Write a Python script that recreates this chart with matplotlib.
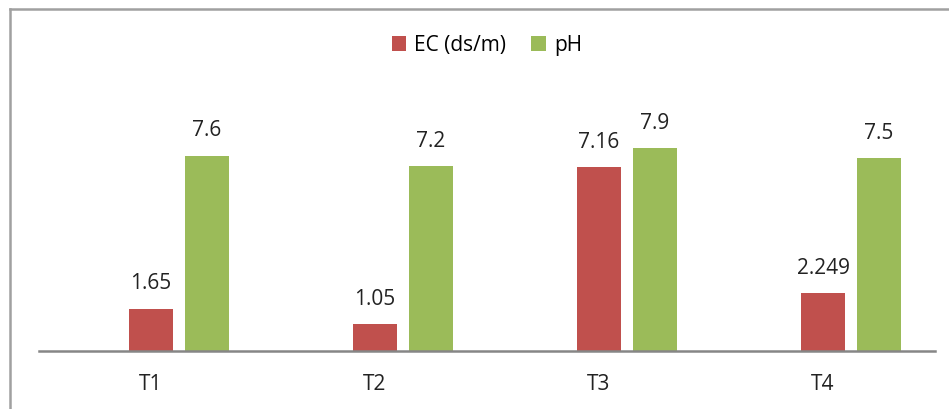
import numpy as np
import matplotlib.pyplot as plt
from matplotlib.lines import Line2D

# Dados: EC e pH por tratamento
tratamentos = ['T1', 'T2', 'T3', 'T4']
ec = [1.65, 1.05, 7.16, 2.249]
ph = [7.6, 7.2, 7.9, 7.5]
rotulos_ec = ['1.65', '1.05', '7.16', '2.249']
rotulos_ph = ['7.6', '7.2', '7.9', '7.5']

cor_ec = '#C0504D'
cor_ph = '#9BBB59'

plt.rcParams['font.family'] = ['Open Sans', 'DejaVu Sans']

fig = plt.figure(figsize=(9.49, 4.10), dpi=100)
ax = fig.add_axes([39 / 949, 58 / 410, 896 / 949, 257 / 410])

x = np.arange(len(tratamentos))
largura = 0.2
b1 = ax.bar(x, ec, largura, color=cor_ec, label='EC (ds/m)')
b2 = ax.bar(x + 0.25, ph, largura, color=cor_ph, label='pH')

# Rótulos de valor acima das barras
for barras, rotulos in [(b1, rotulos_ec), (b2, rotulos_ph)]:
    for b, r in zip(barras, rotulos):
        ax.annotate(r, (b.get_x() + b.get_width() / 2, b.get_height()),
                    xytext=(0, 11), textcoords='offset points',
                    ha='center', va='bottom', fontsize=15, color='#222222')

ax.set_xlim(-0.5, 3.5)
ax.set_ylim(0, 10)
ax.set_xticks(x)
ax.set_xticklabels(tratamentos, fontsize=15, color='#222222')
ax.tick_params(axis='x', length=0, pad=16)
ax.set_yticks([])
for lado in ['top', 'right', 'left']:
    ax.spines[lado].set_visible(False)
ax.spines['bottom'].set_color('#868686')
ax.spines['bottom'].set_linewidth(1.8)

ax.legend(loc='center', bbox_to_anchor=(487 / 949, 1 - 46 / 410),
          bbox_transform=fig.transFigure, ncol=2, frameon=False,
          fontsize=15, handlelength=0.7, handleheight=0.7,
          handletextpad=0.4, columnspacing=1.2)

# Borda da área do gráfico (esquerda e topo)
fig.add_artist(Line2D([10 / 949, 10 / 949], [0, 1 - 10 / 410],
                      transform=fig.transFigure, color='#A0A0A0', lw=1.8))
fig.add_artist(Line2D([10 / 949, 1], [1 - 10 / 410, 1 - 10 / 410],
                      transform=fig.transFigure, color='#A0A0A0', lw=1.8))

fig.savefig('out.png', dpi=100)
